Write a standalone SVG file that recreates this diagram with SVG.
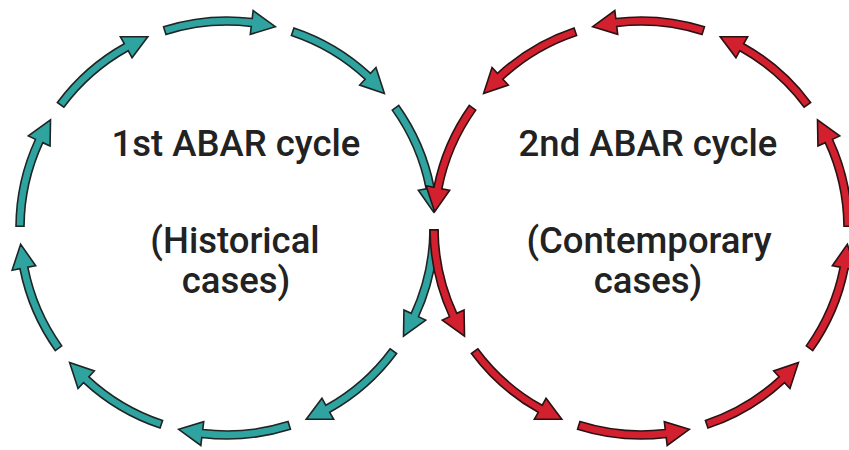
<svg xmlns="http://www.w3.org/2000/svg" xmlns:xlink="http://www.w3.org/1999/xlink" width="849" height="450" viewBox="0 0 849 450">
<style>
.lbl{font-family:Roboto,"Liberation Sans",sans-serif;font-weight:500;font-size:36.5px;fill:#222;text-anchor:middle}
.teal{fill:#2fa3a0;stroke:#1e2524;stroke-width:1.6;stroke-linejoin:miter}
.red{fill:#d3202e;stroke:#2a1214;stroke-width:1.6;stroke-linejoin:miter}
</style>
<defs>
<path id="arr" d="M211,0 A211,211 0 0 1 192.22,87.04 L199.51,90.34 L177.44,106.61 L177.65,80.44 L184.93,83.74 A203,203 0 0 0 203,0 Z"/>
</defs>
<rect width="849" height="450" fill="#ffffff"/>
<g id="connectors">
<g id="cycle1-arrows" class="teal" transform="translate(227,228)">
<use xlink:href="#arr" transform="rotate(-107.5)"/>
<use xlink:href="#arr" transform="rotate(-71.5)"/>
<use xlink:href="#arr" transform="rotate(-35.5)"/>
<use xlink:href="#arr" transform="rotate(0.5)"/>
<use xlink:href="#arr" transform="rotate(36.5)"/>
<use xlink:href="#arr" transform="rotate(72.5)"/>
<use xlink:href="#arr" transform="rotate(108.5)"/>
<use xlink:href="#arr" transform="rotate(144.5)"/>
<use xlink:href="#arr" transform="rotate(180.5)"/>
<use xlink:href="#arr" transform="rotate(216.5)"/>
</g>
<g id="cycle2-arrows" class="red" transform="translate(641,228) scale(-1,1)">
<use xlink:href="#arr" transform="rotate(-107.5)"/>
<use xlink:href="#arr" transform="rotate(-71.5)"/>
<use xlink:href="#arr" transform="rotate(-35.5)"/>
<use xlink:href="#arr" transform="rotate(0.5)"/>
<use xlink:href="#arr" transform="rotate(36.5)"/>
<use xlink:href="#arr" transform="rotate(72.5)"/>
<use xlink:href="#arr" transform="rotate(108.5)"/>
<use xlink:href="#arr" transform="rotate(144.5)"/>
<use xlink:href="#arr" transform="rotate(180.5)"/>
<use xlink:href="#arr" transform="rotate(216.5)"/>
</g>
</g>
<g id="cycle1">
<text class="lbl" x="236" y="156">1st ABAR cycle</text>
<text class="lbl" x="235" y="253">(Historical</text>
<text class="lbl" x="236" y="293">cases)</text>
</g>
<g id="cycle2">
<text class="lbl" x="648" y="156">2nd ABAR cycle</text>
<text class="lbl" x="649" y="253">(Contemporary</text>
<text class="lbl" x="648" y="293">cases)</text>
</g>
</svg>
